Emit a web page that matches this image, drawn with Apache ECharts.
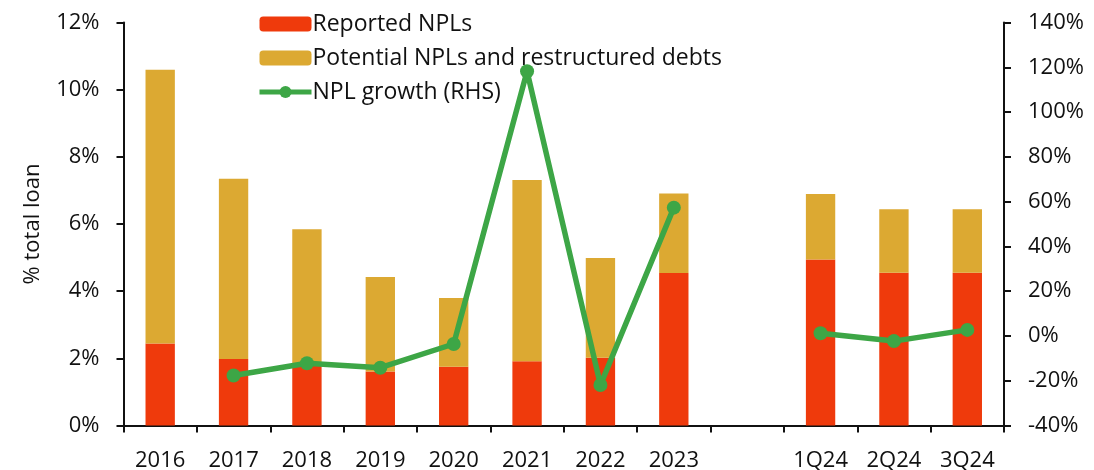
<!DOCTYPE html>
<html>
<head>
<meta charset="utf-8">
<script src="https://cdn.jsdelivr.net/npm/echarts@6/dist/echarts.min.js"></script>
<style>
  html, body { margin: 0; padding: 0; background: #fff; }
  #chart { width: 1094px; height: 470px; }
</style>
</head>
<body>
<div id="chart"></div>
<script>
// Periods on the category axis (blank slot separates annual and quarterly data)
const categories = ['2016', '2017', '2018', '2019', '2020', '2021', '2022', '2023', '', '1Q24', '2Q24', '3Q24'];

// Reported NPLs, % of total loans
const reportedNPLs = [2.44, 1.98, 1.80, 1.61, 1.75, 1.91, 2.02, 4.54, null, 4.94, 4.55, 4.55];

// Potential NPLs and restructured debts, % of total loans
const potentialNPLs = [8.15, 5.37, 4.04, 2.81, 2.05, 5.40, 2.97, 2.37, null, 1.95, 1.89, 1.89];

// NPL growth, % (right-hand scale)
const nplGrowth = [null, -17.7, -12.2, -14.2, -3.6, 118.2, -21.9, 57.3, null, 1.2, -2.3, 2.7];

const FONT = 'Open Sans';
const INK = '#111';
const GREEN = '#3DA646';

const chart = echarts.init(document.getElementById('chart'), null, { renderer: 'canvas' });

chart.setOption({
  animation: false,
  textStyle: { fontFamily: FONT, color: INK },
  grid: {
    left: 123.5, right: 90, top: 22.5, bottom: 44.5,
    containLabel: false,
    outerBoundsMode: 'none'
  },
  legend: {
    orient: 'vertical',
    left: 252,
    top: 7,
    itemWidth: 52,
    itemHeight: 15,
    itemGap: 10,
    lineStyle: { width: 5, color: GREEN },
    textStyle: { fontFamily: FONT, fontSize: 23, lineHeight: 24, color: INK, padding: [0, 0, 0, -4] },
    data: ['Reported NPLs', 'Potential NPLs and restructured debts', 'NPL growth (RHS)']
  },
  xAxis: {
    type: 'category',
    data: categories,
    boundaryGap: true,
    axisLine: { lineStyle: { color: INK, width: 2 } },
    axisTick: { show: true, alignWithLabel: false, interval: 0, length: 7, lineStyle: { color: INK, width: 2 } },
    axisLabel: { interval: 0, fontSize: 22, color: INK, margin: 24, fontFamily: FONT }
  },
  yAxis: [
    {
      type: 'value',
      min: 0,
      max: 12,
      interval: 2,
      name: '% total loan',
      nameLocation: 'middle',
      nameGap: 80,
      nameRotate: 90,
      nameTextStyle: { fontSize: 22, color: INK, fontFamily: FONT },
      splitLine: { show: false },
      axisLine: { show: true, lineStyle: { color: INK, width: 2 } },
      axisTick: { show: true, length: 7, lineStyle: { color: INK, width: 2 } },
      axisLabel: { fontSize: 22, color: INK, margin: 24, formatter: '{value}%', fontFamily: FONT }
    },
    {
      type: 'value',
      min: -40,
      max: 140,
      interval: 20,
      position: 'right',
      splitLine: { show: false },
      axisLine: { show: true, lineStyle: { color: INK, width: 2 } },
      axisTick: { show: true, length: 7, lineStyle: { color: INK, width: 2 } },
      axisLabel: { fontSize: 22, color: INK, margin: 24, formatter: '{value}%', fontFamily: FONT }
    }
  ],
  series: [
    {
      name: 'Reported NPLs',
      type: 'bar',
      stack: 'npl',
      barWidth: '40%',
      itemStyle: { color: '#EF3A0C' },
      data: reportedNPLs
    },
    {
      name: 'Potential NPLs and restructured debts',
      type: 'bar',
      stack: 'npl',
      barWidth: '40%',
      itemStyle: { color: '#DCA932' },
      data: potentialNPLs
    },
    {
      name: 'NPL growth (RHS)',
      type: 'line',
      yAxisIndex: 1,
      connectNulls: false,
      symbol: 'circle',
      symbolSize: 14,
      lineStyle: { color: GREEN, width: 5.5 },
      itemStyle: { color: GREEN },
      data: nplGrowth,
      z: 5
    }
  ]
});
</script>
</body>
</html>
